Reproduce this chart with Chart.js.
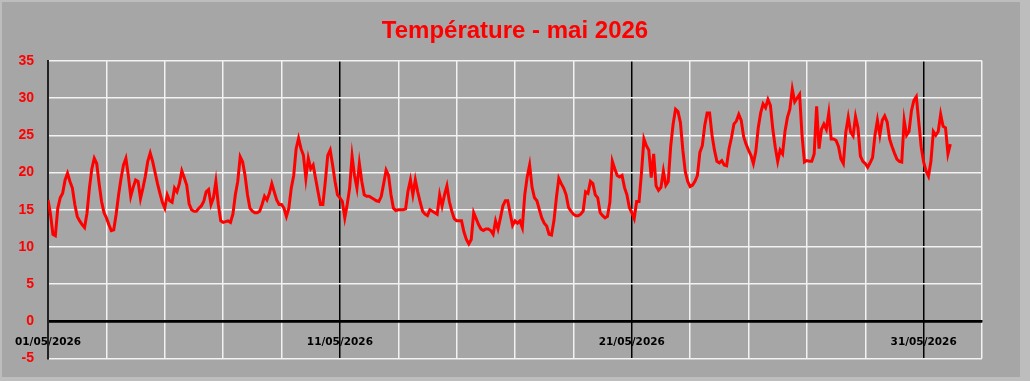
<!DOCTYPE html>
<html>
<head>
<meta charset="utf-8">
<script src="https://cdn.jsdelivr.net/npm/chart.js@4.4.1/dist/chart.umd.min.js"></script>
<style>
  html, body { margin: 0; padding: 0; background: #bdbdbd; }
  #wrap { width: 1030px; height: 381px; position: relative; background: #bdbdbd; overflow: hidden; }
  #panel { position: absolute; left: 2px; top: 2px; width: 1018px; height: 375px; background: #a6a6a6; }
  canvas { display: block; position: absolute; left: 0; top: 0; }
</style>
</head>
<body>
<div id="wrap"><div id="panel"></div><canvas id="c" width="1030" height="381"></canvas></div>
<script>
// ---- Data (readings every 2 hours, starting 01/05/2026 00:00) ----
const chartTitle = 'Température - mai 2026';
const sampleStepHours = 2;
const temperatures = [
  16.3, 14.4, 11.7, 11.5, 15.2, 16.6, 17.2, 19.0, 19.9, 18.8, 17.9, 15.7, // 01/05
  14.1, 13.5, 13.0, 12.6, 14.5, 17.9, 20.5, 21.9, 21.2, 18.5, 16.1, 14.6, // 02/05
  13.9, 13.0, 12.2, 12.3, 14.4, 17.0, 19.2, 21.0, 21.9, 19.6, 16.8, 18.0, // 03/05
  19.0, 18.8, 16.5, 17.9, 19.5, 21.5, 22.6, 21.5, 20.0, 18.5, 17.2, 16.0, // 04/05
  15.2, 17.0, 16.2, 16.0, 17.9, 17.4, 18.5, 20.2, 19.3, 18.3, 15.8, 15.0, // 05/05
  14.8, 14.8, 15.2, 15.5, 16.1, 17.4, 17.7, 15.7, 16.6, 18.8, 15.7, 13.5, // 06/05
  13.3, 13.4, 13.5, 13.3, 14.4, 17.0, 18.8, 22.1, 21.4, 19.6, 17.0, 15.2, // 07/05
  14.8, 14.6, 14.6, 14.8, 15.7, 16.8, 16.3, 17.2, 18.5, 17.4, 16.3, 15.7, // 08/05
  15.7, 15.2, 14.1, 15.2, 17.9, 19.6, 23.2, 24.6, 23.2, 22.3, 19.2, 21.9, // 09/05
  20.5, 21.0, 19.2, 17.4, 15.7, 15.7, 18.8, 22.3, 23.0, 21.0, 18.8, 17.0, // 10/05
  16.6, 16.1, 13.9, 15.7, 17.9, 22.2, 19.6, 17.9, 21.2, 18.8, 17.0, 16.8, // 11/05
  16.8, 16.6, 16.4, 16.2, 16.1, 16.8, 18.5, 20.3, 19.6, 17.0, 15.2, 14.9, // 12/05
  15.0, 15.0, 15.0, 15.1, 17.5, 19.0, 17.0, 19.0, 17.4, 16.0, 14.8, 14.4, // 13/05
  14.2, 15.0, 14.8, 14.6, 14.4, 17.0, 15.5, 17.0, 18.2, 16.1, 14.8, 13.8, // 14/05
  13.5, 13.5, 13.5, 12.0, 11.0, 10.4, 11.0, 14.6, 13.8, 13.0, 12.4, 12.2, // 15/05
  12.4, 12.4, 12.2, 11.7, 13.5, 12.4, 13.9, 15.5, 16.2, 16.2, 14.5, 12.9, // 16/05
  13.5, 13.2, 13.5, 12.6, 17.0, 19.4, 21.0, 18.0, 16.6, 16.2, 15.0, 13.9, // 17/05
  13.2, 12.8, 11.7, 11.6, 13.5, 16.6, 19.2, 18.5, 17.9, 17.0, 15.3, 14.8, // 18/05
  14.4, 14.2, 14.2, 14.4, 14.8, 17.4, 17.2, 18.8, 18.5, 17.0, 16.6, 14.6, // 19/05
  14.2, 13.9, 14.1, 16.0, 21.5, 20.5, 19.6, 19.4, 19.6, 18.0, 17.0, 15.3, // 20/05
  14.6, 13.8, 16.1, 16.1, 20.0, 24.5, 23.6, 23.0, 19.3, 22.5, 18.2, 17.6, // 21/05
  18.0, 20.2, 18.3, 18.8, 23.5, 26.5, 28.5, 28.2, 26.7, 23.0, 20.1, 18.8, // 22/05
  18.1, 18.3, 18.8, 19.6, 22.7, 23.6, 26.3, 28.0, 28.0, 25.0, 23.0, 21.5, // 23/05
  21.3, 21.6, 21.0, 20.9, 23.2, 24.7, 26.5, 26.9, 27.8, 27.0, 24.8, 23.8, // 24/05
  23.0, 22.3, 21.2, 22.8, 26.0, 28.0, 29.2, 28.7, 29.8, 29.0, 25.8, 23.4, // 25/05
  21.5, 23.0, 22.5, 25.5, 27.4, 28.5, 31.2, 29.5, 30.0, 30.5, 25.0, 21.4, // 26/05
  21.6, 21.5, 21.5, 22.5, 28.9, 23.2, 25.8, 26.5, 25.8, 28.0, 24.5, 24.5, // 27/05
  24.3, 23.5, 21.8, 21.2, 25.4, 27.4, 25.4, 24.9, 27.5, 26.0, 22.2, 21.5, // 28/05
  21.2, 20.7, 21.3, 22.0, 25.0, 27.0, 25.0, 27.0, 27.6, 26.8, 24.5, 23.5, // 29/05
  22.6, 21.8, 21.5, 21.4, 27.0, 25.0, 25.5, 28.3, 29.7, 30.2, 26.8, 23.4, // 30/05
  21.4, 20.2, 19.5, 21.5, 25.5, 25.0, 25.5, 27.8, 26.2, 26.0, 22.5, 23.8  // 31/05
];
const dateLabelDays = [0, 10, 20, 30];
const dateLabels = ['01/05/2026', '11/05/2026', '21/05/2026', '31/05/2026'];
const xRangeDays = [0, 32];
const yTickValues = [-5, 0, 5, 10, 15, 20, 25, 30, 35];

// ---- Chart ----
const points = temperatures.map((t, i) => ({ x: i * sampleStepHours / 24, y: t }));
const labelFor = (v) => {
  const idx = dateLabelDays.indexOf(Math.round(v));
  return idx >= 0 && Math.abs(v - dateLabelDays[idx]) < 1e-6 ? dateLabels[idx] : '';
};

new Chart(document.getElementById('c'), {
  type: 'line',
  data: {
    datasets: [{
      data: points,
      borderColor: '#ff0000',
      borderWidth: 3,
      pointRadius: 0,
      tension: 0,
      fill: false
    }]
  },
  options: {
    responsive: false,
    animation: false,
    devicePixelRatio: 1,
    layout: { padding: { left: 0, right: 0, top: 0, bottom: 18 } },
    plugins: {
      legend: { display: false },
      tooltip: { enabled: false },
      title: {
        display: true,
        text: chartTitle,
        color: '#ff0000',
        font: { family: 'Liberation Sans', size: 24, weight: 'bold' },
        padding: { top: 17, bottom: 15 }
      }
    },
    scales: {
      x: {
        type: 'linear',
        position: { y: 0 },
        min: xRangeDays[0],
        max: xRangeDays[1],
        ticks: {
          stepSize: 2,
          autoSkip: false,
          maxRotation: 0,
          padding: 15,
          color: '#000',
          font: { family: 'DejaVu Sans', size: 10.5, weight: 'bold' },
          callback: (v) => labelFor(v)
        },
        grid: {
          drawTicks: false,
          color: (ctx) => (ctx.tick && ctx.tick.value % 10 === 0) ? '#000000' : '#f2f2f2',
          lineWidth: 1.5
        },
        border: { display: true, color: '#000000', width: 2.5 }
      },
      y: {
        min: yTickValues[0],
        max: yTickValues[yTickValues.length - 1],
        afterBuildTicks: (scale) => { scale.ticks = yTickValues.map(v => ({ value: v })); },
        afterFit: (scale) => { scale.width = 48; },
        ticks: {
          padding: 14,
          color: '#ff0000',
          font: { family: 'Liberation Sans', size: 14, weight: 'bold' }
        },
        grid: {
          drawTicks: false,
          color: (ctx) => (ctx.tick && ctx.tick.value === 0) ? '#000000' : '#f2f2f2',
          lineWidth: 1.5
        },
        border: { display: true, color: '#222222', width: 2 }
      },
      rightSpace: {
        type: 'linear',
        position: 'right',
        display: true,
        min: yTickValues[0],
        max: yTickValues[yTickValues.length - 1],
        ticks: { display: false },
        grid: { display: false, drawOnChartArea: false },
        border: { display: false },
        afterFit: (scale) => { scale.width = 48; }
      }
    }
  }
});
</script>
</body>
</html>
